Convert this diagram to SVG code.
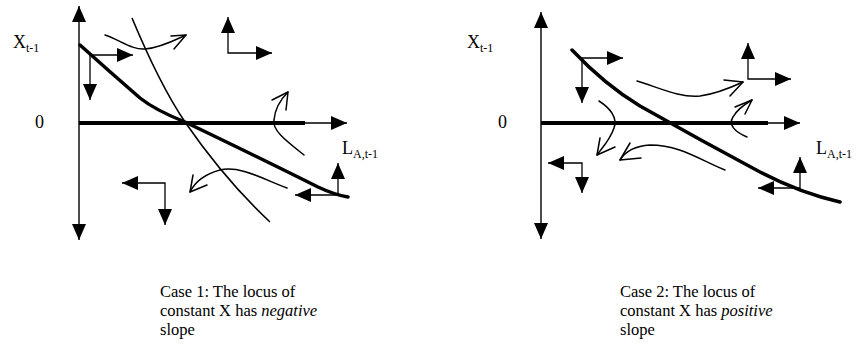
<svg xmlns="http://www.w3.org/2000/svg" width="862" height="360" viewBox="0 0 862 360">
<style>
.t{font-family:"Liberation Serif","Times New Roman",serif;font-size:16.5px;fill:#000}
.l{font-size:18px}
.s{font-size:12px}
.ax{stroke:#000;stroke-width:1.4;fill:none}
.thick{stroke:#000;stroke-width:4;fill:none}
.loc{stroke:#000;stroke-width:3.5;fill:none;stroke-linecap:round}
.thin{stroke:#000;stroke-width:1.6;fill:none}
.vec{stroke:#000;stroke-width:1.3;fill:none}
.cur{stroke:#000;stroke-width:1.5;fill:none;stroke-linecap:round;stroke-linejoin:round}
</style>
<defs>
<marker id="ah" markerUnits="userSpaceOnUse" markerWidth="16" markerHeight="14" refX="16" refY="7" orient="auto-start-reverse">
<path d="M0,0 L16,7 L0,14 z" fill="#000"/>
</marker>
</defs>
<g id="case1">
<g id="axes1">
<line class="ax" x1="79" y1="6" x2="79" y2="240" marker-start="url(#ah)" marker-end="url(#ah)"/>
<line class="thick" x1="79" y1="123" x2="305" y2="123"/>
<line class="ax" x1="304" y1="123" x2="347" y2="123" marker-end="url(#ah)"/>
</g>
<g id="loci1">
<path class="loc" d="M80,45 Q110,72 140,98 Q155,110 185,122 Q260,158 318,187 Q335,195 348,197"/>
<path class="thin" d="M132,18 Q160,85 185,122 Q225,180 270,222"/>
</g>
<g id="vectors1">
<path class="vec" d="M133,55 L90,55 L90,100" marker-start="url(#ah)" marker-end="url(#ah)"/>
<path class="vec" d="M228,17 L228,53 L272,53" marker-start="url(#ah)" marker-end="url(#ah)"/>
<path class="vec" d="M122,183 L165,183 L165,225" marker-start="url(#ah)" marker-end="url(#ah)"/>
<path class="vec" d="M338,163 L338,195 L295,195" marker-start="url(#ah)" marker-end="url(#ah)"/>
</g>
<g id="flows1">
<path class="cur" d="M105,35 C120,40 132,50 145,49 C160,48 175,40 186,35"/>
<polyline class="cur" points="171,36 186,35 174,49"/>
<path class="cur" d="M304,155 C285,140 272,130 274,120 C275,108 282,98 288,92"/>
<polyline class="cur" points="272,100 288,92 286,110"/>
<path class="cur" d="M287,188 C265,180 240,165 220,170 C205,174 195,182 190,192"/>
<polyline class="cur" points="193,175 190,192 207,185"/>
</g>
<g id="labels1">
<text class="t l" x="13" y="48">X<tspan class="s" dy="4">t-1</tspan></text>
<text class="t l" x="35" y="128">0</text>
<text class="t l" x="342" y="154">L<tspan class="s" dy="4">A,t-1</tspan></text>
<text class="t" x="160" y="297">Case 1: The locus of</text>
<text class="t" x="160" y="316">constant X has <tspan font-style="italic">negative</tspan></text>
<text class="t" x="160" y="335">slope</text>
</g>
</g>
<g id="case2">
<g id="axes2">
<line class="ax" x1="541" y1="12" x2="541" y2="239" marker-start="url(#ah)" marker-end="url(#ah)"/>
<line class="thick" x1="541" y1="123" x2="768" y2="123"/>
<line class="ax" x1="767" y1="123" x2="800" y2="123" marker-end="url(#ah)"/>
</g>
<g id="loci2">
<path class="loc" d="M572,50 Q605,85 640,106 Q700,140 760,172 Q800,193 840,202"/>
</g>
<g id="vectors2">
<path class="vec" d="M623,58 L582,58 L582,103" marker-start="url(#ah)" marker-end="url(#ah)"/>
<path class="vec" d="M748,43 L748,79 L791,79" marker-start="url(#ah)" marker-end="url(#ah)"/>
<path class="vec" d="M548,163 L582,163 L582,193" marker-start="url(#ah)" marker-end="url(#ah)"/>
<path class="vec" d="M800,157 L800,188 L758,188" marker-start="url(#ah)" marker-end="url(#ah)"/>
</g>
<g id="flows2">
<path class="cur" d="M637,81 C660,88 680,98 700,96 C715,94 730,88 743,82"/>
<polyline class="cur" points="724,80 743,82 730,96"/>
<path class="cur" d="M747,137 C735,132 728,125 733,117 C737,110 745,104 752,100"/>
<polyline class="cur" points="735,107 752,100 745,114"/>
<path class="cur" d="M599,101 C610,108 618,118 614,128 C610,140 602,148 597,155"/>
<polyline class="cur" points="600,138 597,155 615,147"/>
<path class="cur" d="M725,170 C700,160 680,145 650,145 C635,146 625,152 620,160"/>
<polyline class="cur" points="630,143 620,160 641,158"/>
</g>
<g id="labels2">
<text class="t l" x="467" y="48">X<tspan class="s" dy="4">t-1</tspan></text>
<text class="t l" x="498" y="128">0</text>
<text class="t l" x="816" y="154">L<tspan class="s" dy="4">A,t-1</tspan></text>
<text class="t" x="620" y="297">Case 2: The locus of</text>
<text class="t" x="620" y="316">constant X has <tspan font-style="italic">positive</tspan></text>
<text class="t" x="620" y="335">slope</text>
</g>
</g>
</svg>
